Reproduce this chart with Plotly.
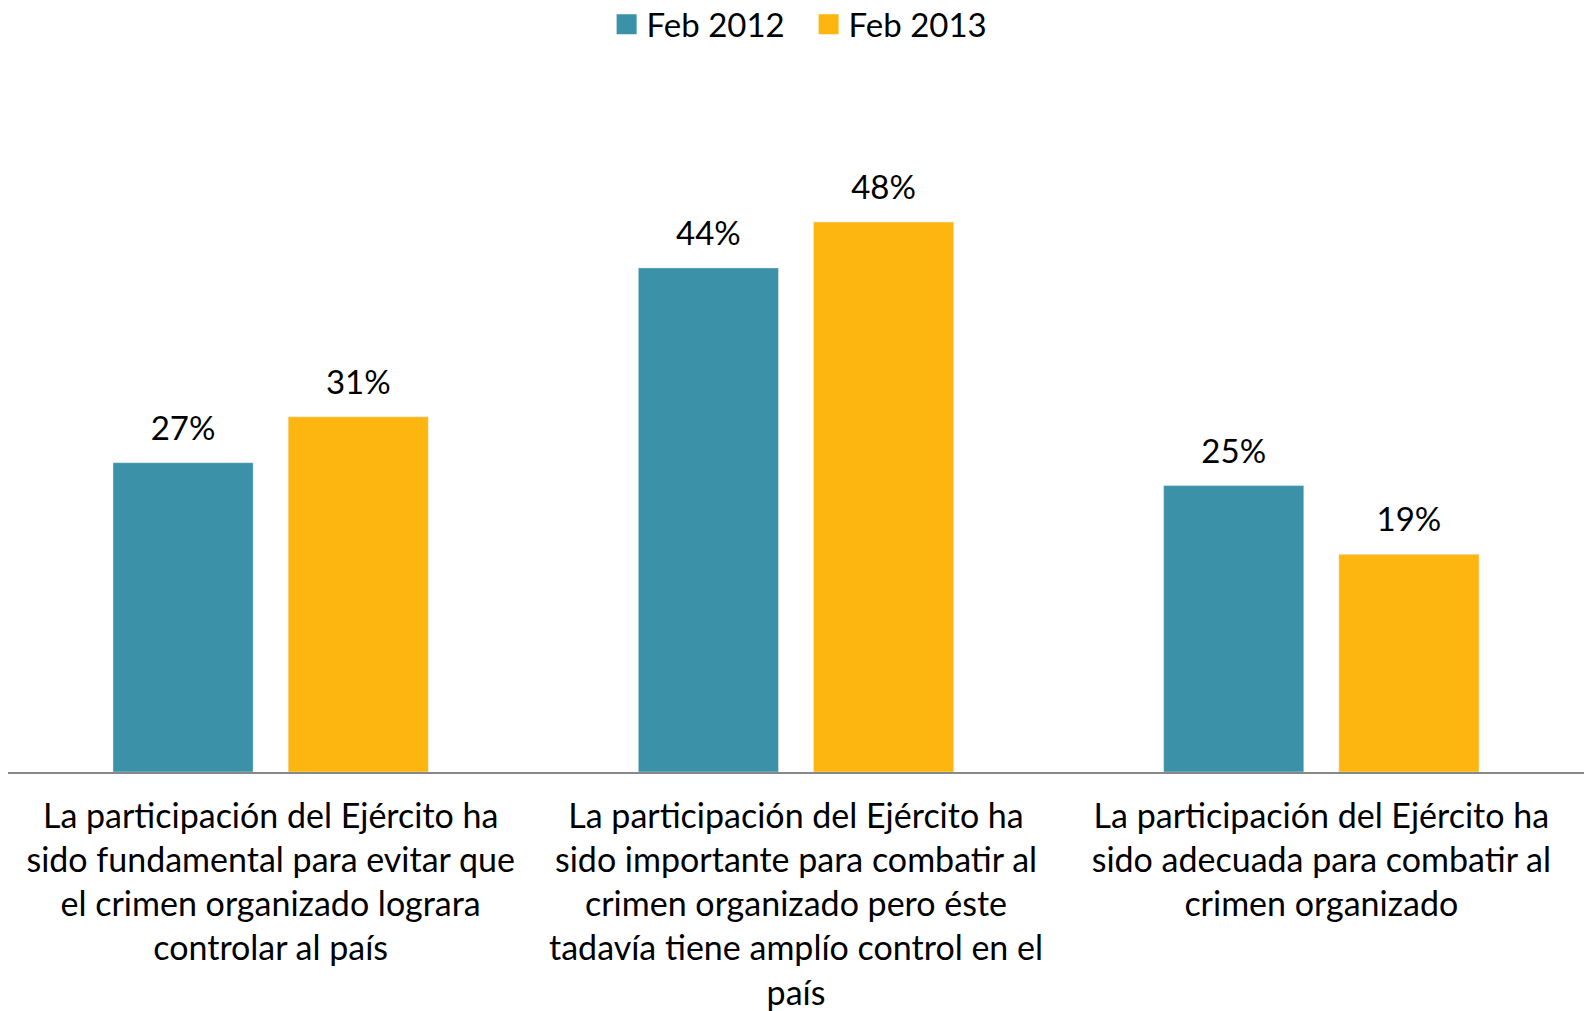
import plotly.graph_objects as go

categories = [
    "La participación del Ejército ha<br>sido fundamental para evitar que<br>el crimen organizado lograra<br>controlar al país",
    "La participación del Ejército ha<br>sido importante para combatir al<br>crimen organizado pero éste<br>tadavía tiene amplío control en el<br>país",
    "La participación del Ejército ha<br>sido adecuada para combatir al<br>crimen organizado",
]
series_names = ["Feb 2012", "Feb 2013"]
feb2012 = [27, 44, 25]
feb2013 = [31, 48, 19]
colors = ["#3A91A8", "#FDB50F"]

FONT = "Lato, 'Open Sans', sans-serif"

fig = go.Figure()
for name, vals, col in zip(series_names, [feb2012, feb2013], colors):
    fig.add_trace(go.Bar(
        x=categories, y=vals, name=name, marker_color=col,
        showlegend=False,
    ))
# value labels, positioned by the library in grouped scatter mode
for name, vals in zip(series_names, [feb2012, feb2013]):
    fig.add_trace(go.Scatter(
        x=categories, y=vals, mode="markers+text", name=name + " labels",
        text=[f"{v}%" for v in vals], textposition="top center",
        textfont=dict(size=33, color="black", family=FONT),
        marker=dict(size=22, opacity=0), cliponaxis=False,
        showlegend=False, hoverinfo="skip",
    ))
# legend entries with larger square swatches (on hidden overlay axes)
for name, col in zip(series_names, colors):
    fig.add_trace(go.Scatter(
        x=[None], y=[None], mode="markers", name=name, xaxis="x2", yaxis="y2",
        marker=dict(symbol="square", size=16, color=col, line=dict(color=col, width=4)),
    ))

fig.update_layout(
    width=1587, height=1011,
    margin=dict(l=8, r=3, t=80, b=239),
    paper_bgcolor="white", plot_bgcolor="white",
    barmode="group", bargap=0.333, bargroupgap=0.2,
    scattermode="group", scattergap=0.333,
    font=dict(family=FONT, size=34, color="black"),
    legend=dict(orientation="h", x=0.508, xanchor="center", y=0.976, yanchor="middle",
                yref="container", font=dict(size=33), itemwidth=30,
                entrywidth=157, entrywidthmode="pixels", itemsizing="trace"),
    showlegend=True,
    xaxis2=dict(overlaying="x", visible=False),
    yaxis2=dict(overlaying="y", visible=False),
    xaxis=dict(showline=True, linecolor="#888888", linewidth=2, ticks="",
               tickfont=dict(size=34, color="black"), automargin=False,
               ticklabelstandoff=13),
    yaxis=dict(range=[0, 60.4], visible=False, showgrid=False),
)

fig.write_html("out.html", config={"displayModeBar": False},
               post_script="document.body.style.margin='0';")
